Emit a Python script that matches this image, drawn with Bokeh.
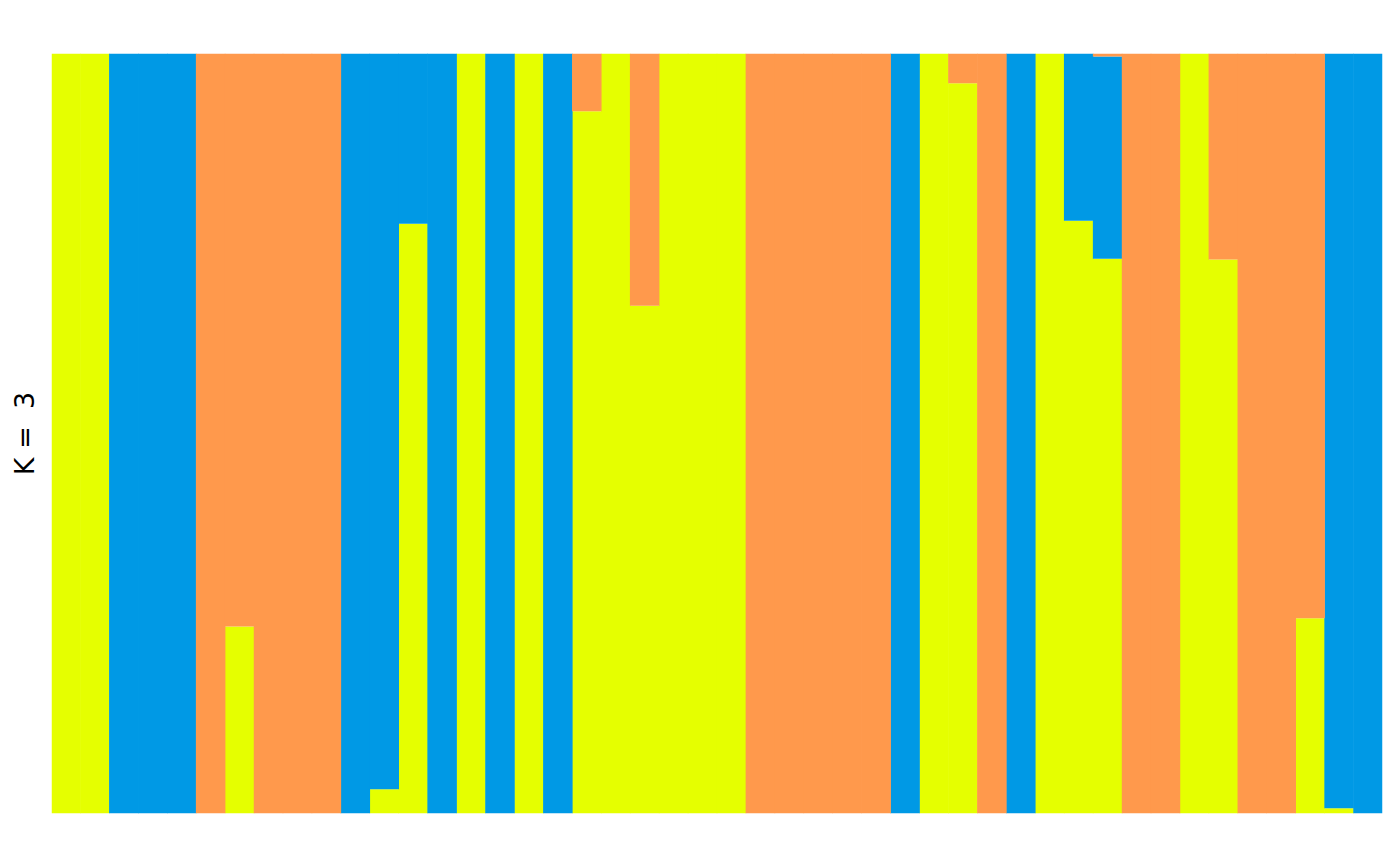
from bokeh.plotting import figure
from bokeh.models import Range1d, FixedTicker, ColumnDataSource
from bokeh.embed import file_html
from bokeh.resources import INLINE

# Individuals (order as in the plot)
individuals = list(range(1, 47))

# Ancestry proportions for K = 3 (stacked bottom -> top: yellow, blue, orange)
yellow = [1.0, 1.0, 0.0, 0.0, 0.0, 0.0, 0.246, 0.0, 0.0, 0.0,
          0.0, 0.032, 0.776, 0.0, 1.0, 0.0, 1.0, 0.0, 0.924, 1.0,
          0.668, 1.0, 1.0, 1.0, 0.0, 0.0, 0.0, 0.0, 0.0, 0.0,
          1.0, 0.961, 0.0, 0.0, 1.0, 0.780, 0.730, 0.0, 0.0, 1.0,
          0.729, 0.0, 0.0, 0.257, 0.007, 0.0]
blue = [0.0, 0.0, 1.0, 1.0, 1.0, 0.0, 0.0, 0.0, 0.0, 0.0,
        1.0, 0.968, 0.224, 1.0, 0.0, 1.0, 0.0, 1.0, 0.0, 0.0,
        0.0, 0.0, 0.0, 0.0, 0.0, 0.0, 0.0, 0.0, 0.0, 1.0,
        0.0, 0.0, 0.0, 1.0, 0.0, 0.220, 0.266, 0.0, 0.0, 0.0,
        0.0, 0.0, 0.0, 0.0, 0.993, 1.0]
orange = [0.0, 0.0, 0.0, 0.0, 0.0, 1.0, 0.754, 1.0, 1.0, 1.0,
          0.0, 0.0, 0.0, 0.0, 0.0, 0.0, 0.0, 0.0, 0.076, 0.0,
          0.332, 0.0, 0.0, 0.0, 1.0, 1.0, 1.0, 1.0, 1.0, 0.0,
          0.0, 0.039, 1.0, 0.0, 0.0, 0.0, 0.004, 1.0, 1.0, 0.0,
          0.271, 1.0, 1.0, 0.743, 0.0, 0.0]

cluster_names = ["yellow", "blue", "orange"]
cluster_colors = ["#E5FF00", "#0099E5", "#FF994C"]
y_label = "K\u00a0=\u00a0\u00a03"

source = ColumnDataSource(dict(x=individuals, yellow=yellow, blue=blue, orange=orange))

p = figure(width=1400, height=866, output_backend="svg", toolbar_location=None,
           x_range=Range1d(0.5, len(individuals) + 0.5), y_range=Range1d(0, 1),
           min_border_left=51, min_border_right=18, min_border_top=53, min_border_bottom=53)

p.vbar_stack(cluster_names, x="x", width=1.02, source=source,
             fill_color=cluster_colors, line_color=None)

p.xaxis.visible = False
p.grid.visible = False
p.outline_line_color = None
p.background_fill_color = "white"
p.border_fill_color = "white"

ya = p.yaxis[0]
ya.ticker = FixedTicker(ticks=[])
ya.axis_line_color = None
ya.major_tick_line_color = None
ya.minor_tick_line_color = None
ya.major_label_text_font_size = "0px"
ya.axis_label = y_label
ya.axis_label_text_font = "DejaVu Sans"
ya.axis_label_text_font_style = "normal"
ya.axis_label_text_font_size = "27px"
ya.axis_label_text_color = "black"
ya.axis_label_standoff = 12

open("out.html", "w").write(file_html(p, INLINE))
